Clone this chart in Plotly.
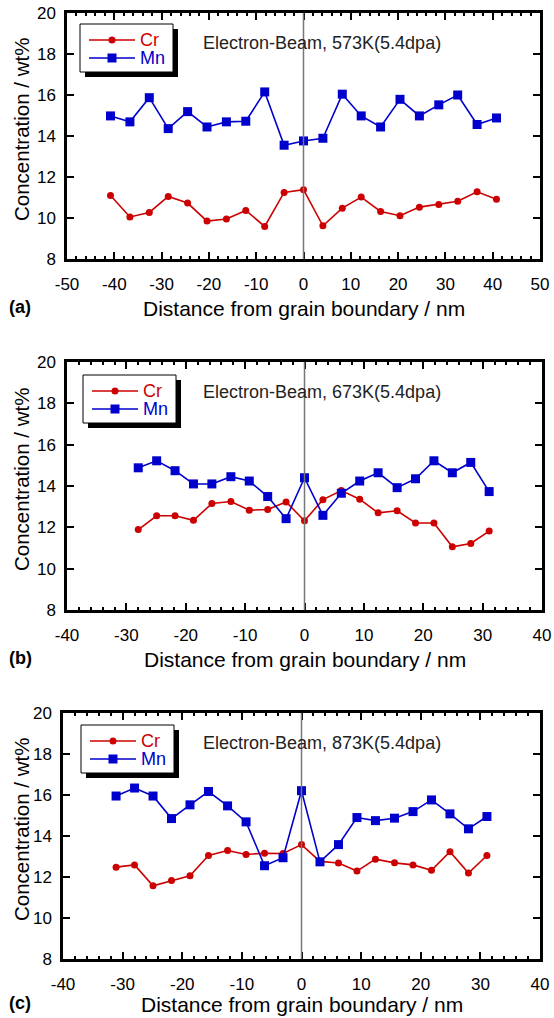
import plotly.graph_objects as go

# ---------------- data ----------------
x_a = [-40.8, -36.7, -32.6, -28.6, -24.5, -20.4, -16.3, -12.2, -8.2, -4.1, 0.0,
       4.1, 8.2, 12.2, 16.3, 20.4, 24.5, 28.6, 32.6, 36.7, 40.8]
cr_a = [11.10, 10.05, 10.27, 11.05, 10.73, 9.85, 9.95, 10.37, 9.59, 11.25, 11.38,
        9.62, 10.48, 11.02, 10.32, 10.11, 10.53, 10.66, 10.82, 11.28, 10.92]
mn_a = [14.98, 14.69, 15.87, 14.36, 15.19, 14.44, 14.69, 14.72, 16.15, 13.55, 13.76,
        13.89, 16.04, 14.98, 14.44, 15.79, 14.98, 15.52, 16.00, 14.56, 14.88]

x_b = [-28.0, -24.9, -21.8, -18.7, -15.6, -12.4, -9.3, -6.2, -3.1, 0.0,
       3.1, 6.2, 9.3, 12.4, 15.6, 18.7, 21.8, 24.9, 28.0, 31.1]
cr_b = [11.89, 12.56, 12.56, 12.34, 13.15, 13.25, 12.83, 12.86, 13.23, 12.32,
        13.34, 13.78, 13.36, 12.70, 12.80, 12.21, 12.21, 11.06, 11.22, 11.82]
mn_b = [14.88, 15.22, 14.74, 14.10, 14.10, 14.45, 14.24, 13.49, 12.42, 14.40,
        12.58, 13.65, 14.24, 14.64, 13.92, 14.35, 15.22, 14.64, 15.14, 13.73]

x_c = [-31.1, -28.0, -24.9, -21.8, -18.7, -15.6, -12.4, -9.3, -6.2, -3.1, 0.0,
       3.1, 6.2, 9.3, 12.4, 15.6, 18.7, 21.8, 24.9, 28.0, 31.1]
cr_c = [12.48, 12.59, 11.57, 11.83, 12.06, 13.05, 13.29, 13.10, 13.16, 13.15, 13.58,
        12.76, 12.68, 12.29, 12.87, 12.69, 12.59, 12.33, 13.23, 12.19, 13.05]
mn_c = [15.95, 16.34, 15.95, 14.85, 15.52, 16.17, 15.47, 14.69, 12.55, 12.94, 16.21,
        12.74, 13.58, 14.90, 14.75, 14.87, 15.19, 15.76, 15.08, 14.35, 14.95]

panel_titles = ["Electron-Beam, 573K(5.4dpa)", "Electron-Beam, 673K(5.4dpa)",
                "Electron-Beam, 873K(5.4dpa)"]
panel_labels = ["(a)", "(b)", "(c)"]
x_ranges = [[-50, 50], [-40, 40], [-40, 40]]
x_tickvals = [list(range(-50, 51, 10)), list(range(-40, 41, 10)), list(range(-40, 41, 10))]
y_range = [8, 20]
y_tickvals = [8, 10, 12, 14, 16, 18, 20]
x_title = "Distance from grain boundary / nm"
y_title = "Concentration / wt%"
series_names = ["Cr", "Mn"]

# ---------------- layout geometry (pixels) ----------------
W, H = 554, 1018
CR_COLOR = "#cc0000"
MN_COLOR = "#0000cc"
FONT = "Liberation Sans, Arial, sans-serif"

# plot area boxes: (left, right, top, bottom) in px
boxes = [(67, 540, 13, 259), (67, 542, 362, 610), (63, 540, 713, 959)]
legend_pos = [(80, 24), (83, 375), (81, 725)]
LEG_W, LEG_H = 93, 48

def px_x(p):
    return p / W

def px_y(p):
    return 1 - p / H

fig = go.Figure()
datasets = [(x_a, cr_a, mn_a), (x_b, cr_b, mn_b), (x_c, cr_c, mn_c)]

layout = dict(
    width=W, height=H, margin=dict(l=0, r=0, t=0, b=0, autoexpand=False),
    paper_bgcolor="white", plot_bgcolor="white", showlegend=False,
    font=dict(family=FONT, color="black", size=17),
)
shapes = []
annotations = []
colors = [CR_COLOR, MN_COLOR]

for i, ((xv, cr, mn), (l, r, t, b)) in enumerate(zip(datasets, boxes)):
    sfx = "" if i == 0 else str(i + 1)
    xa, ya = "x" + sfx, "y" + sfx
    fig.add_trace(go.Scatter(
        x=xv, y=cr, name=series_names[0], mode="lines+markers",
        line=dict(color=CR_COLOR, width=1.6),
        marker=dict(symbol="circle", size=7, color=CR_COLOR),
        xaxis=xa, yaxis=ya))
    fig.add_trace(go.Scatter(
        x=xv, y=mn, name=series_names[1], mode="lines+markers",
        line=dict(color=MN_COLOR, width=1.6),
        marker=dict(symbol="square", size=9, color=MN_COLOR),
        xaxis=xa, yaxis=ya))

    common = dict(showline=True, linecolor="black", linewidth=2.5, mirror="allticks",
                  ticks="inside", tickcolor="black", ticklen=7, tickwidth=2,
                  showgrid=False, zeroline=False, automargin=False,
                  tickfont=dict(family=FONT, size=17, color="black"))
    layout["xaxis" + sfx] = dict(
        common, domain=[px_x(l), px_x(r)], range=x_ranges[i],
        tickmode="array", tickvals=x_tickvals[i],
        ticktext=[str(v) for v in x_tickvals[i]],
        anchor=ya, ticklabelstandoff=8,
        minor=dict(ticks="inside", dtick=2, ticklen=3.5, tickwidth=1.5, tickcolor="black"))
    layout["yaxis" + sfx] = dict(
        common, domain=[px_y(b), px_y(t)], range=y_range, anchor=xa,
        tickmode="array", tickvals=y_tickvals, ticktext=[str(v) for v in y_tickvals],
        ticklabelstandoff=5)

    # zero line
    shapes.append(dict(type="line", xref=xa, yref=ya + " domain", x0=0, x1=0, y0=0, y1=1,
                       line=dict(color="#777777", width=1.5), layer="above"))

    # legend box with drop shadow
    lx, ly = legend_pos[i]
    shapes.append(dict(type="rect", xref="paper", yref="paper",
                       x0=px_x(lx + 5), x1=px_x(lx + LEG_W + 5),
                       y0=px_y(ly + LEG_H + 5), y1=px_y(ly + 5),
                       fillcolor="black", line=dict(width=0), layer="above"))
    shapes.append(dict(type="rect", xref="paper", yref="paper",
                       x0=px_x(lx), x1=px_x(lx + LEG_W), y0=px_y(ly + LEG_H), y1=px_y(ly),
                       fillcolor="white", line=dict(color="black", width=1), layer="above"))
    for k, (nm, col) in enumerate(zip(series_names, colors)):
        yy = ly + 16 + 18 * k
        shapes.append(dict(type="line", xref="paper", yref="paper",
                           x0=px_x(lx + 9), x1=px_x(lx + 55), y0=px_y(yy), y1=px_y(yy),
                           line=dict(color=col, width=1.6), layer="above"))
        cx = lx + 32
        if k == 0:
            shapes.append(dict(type="circle", xref="paper", yref="paper",
                               x0=px_x(cx - 3.5), x1=px_x(cx + 3.5),
                               y0=px_y(yy + 3.5), y1=px_y(yy - 3.5),
                               fillcolor=col, line=dict(color=col, width=0), layer="above"))
        else:
            shapes.append(dict(type="rect", xref="paper", yref="paper",
                               x0=px_x(cx - 4.5), x1=px_x(cx + 4.5),
                               y0=px_y(yy + 4.5), y1=px_y(yy - 4.5),
                               fillcolor=col, line=dict(color=col, width=0), layer="above"))
        annotations.append(dict(text=nm, xref="paper", yref="paper",
                                x=px_x(lx + 58), y=px_y(yy), xanchor="left", yanchor="middle",
                                showarrow=False,
                                font=dict(family=FONT, size=18, color=col)))

    lab_y = min(b + 49, H - 14)
    annotations.append(dict(text=panel_titles[i], xref="paper", yref="paper",
                            x=px_x(322), y=px_y(t + 30), xanchor="center", yanchor="middle",
                            showarrow=False, font=dict(family=FONT, size=18, color="#222222")))
    annotations.append(dict(text="<b>" + panel_labels[i] + "</b>", xref="paper", yref="paper",
                            x=px_x(7), y=px_y(lab_y - 1), xanchor="left", yanchor="middle",
                            showarrow=False, font=dict(family=FONT, size=18, color="black")))
    annotations.append(dict(text=x_title, xref="paper", yref="paper",
                            x=px_x((l + r) / 2), y=px_y(lab_y), xanchor="center",
                            yanchor="middle", showarrow=False,
                            font=dict(family=FONT, size=21, color="black")))
    annotations.append(dict(text=y_title, xref="paper", yref="paper", textangle=-90,
                            x=px_x(21), y=px_y((t + b) / 2 - 6), xanchor="center",
                            yanchor="middle", showarrow=False,
                            font=dict(family=FONT, size=20.5, color="black")))

layout["shapes"] = shapes
layout["annotations"] = annotations
fig.update_layout(**layout)
fig.write_html("out.html", config={"displayModeBar": False},
               post_script="document.body.style.margin='0px';document.body.style.padding='0px';")
